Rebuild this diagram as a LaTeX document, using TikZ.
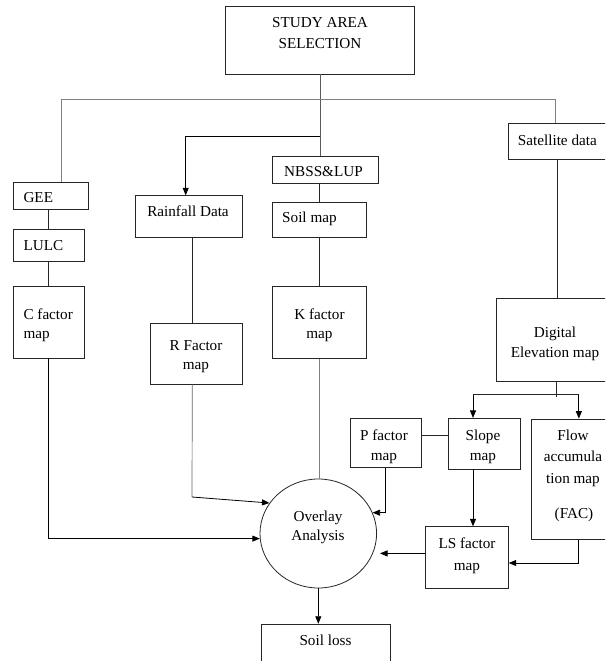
\documentclass[tikz,border=0pt]{standalone}
\usepackage{fontspec}
\setmainfont{Liberation Serif}
\newfontfamily\tnrfont{Liberation Serif}
\usetikzlibrary{arrows.meta,shapes.geometric}
\begin{document}
\begin{tikzpicture}[x=1pt,y=-1pt,
 box/.style={draw=black!85, line width=0.8pt, inner sep=0pt, rectangle},
 lab/.style={inner sep=0pt, anchor=base, font=\tnrfont\fontsize{15.2}{18}\selectfont},
 labl/.style={lab, anchor=base west},
 ln/.style={draw=black!85, line width=0.7pt},
 gln/.style={draw=black!50, line width=0.7pt},
 arr/.style={draw=black, line width=0.8pt, -{Triangle[length=7.5pt,width=6pt]}},
]
\useasboundingbox (0,0) rectangle (605,661);
\clip (0,0) rectangle (605,661);
\fill[white] (0,0) rectangle (605,661);

% boxes
\node[box, minimum width=188.3pt, minimum height=68pt] (study) at (319.85,40) {};
\node[box, minimum width=105.6pt, minimum height=27.3pt] (nbss) at (325.5,169.65) {};
\node[box, minimum width=98.7pt, minimum height=36pt] (sat) at (557.65,141.3) {};
\node[box, minimum width=75pt, minimum height=26.6pt] (gee) at (50.8,196) {};
\node[box, minimum width=71pt, minimum height=32pt] (lulc) at (48.8,245) {};
\node[box, minimum width=71pt, minimum height=72pt] (cf) at (48.8,322) {};
\node[box, minimum width=107.7pt, minimum height=41.6pt] (rain) at (188.85,216.5) {};
\node[box, minimum width=92.7pt, minimum height=61pt] (rf) at (196.35,353.5) {};
\node[box, minimum width=94.4pt, minimum height=35.3pt] (soil) at (319.5,219.65) {};
\node[box, minimum width=94.4pt, minimum height=72.3pt] (kf) at (319.5,322.15) {};
\node[box, minimum width=121pt, minimum height=83.4pt] (dem) at (556.5,340) {};
\node[box, minimum width=71.7pt, minimum height=49pt] (pf) at (385.85,442.8) {};
\node[box, minimum width=72.4pt, minimum height=50.7pt] (sl) at (484.5,443.65) {};
\node[box, minimum width=94.3pt, minimum height=120.3pt] (fl) at (578.85,479.15) {};
\node[box, minimum width=82.6pt, minimum height=61.6pt] (ls) at (467,557.5) {};
\node[box, minimum width=129pt, minimum height=55.7pt] (loss) at (325.5,652) {};
\node[draw=black!85, line width=0.8pt, ellipse, inner sep=0pt,
      minimum width=116.6pt, minimum height=109pt] (ov) at (318.3,533.5) {};

% texts
\node[lab] (t1) at (320,27.5) {STUDY AREA};
\node[lab] (t2) at (320,48.5) {SELECTION};
\node[lab] (t3) at (323.5,176) {NBSS\&LUP};
\node[labl] (t4) at (517.7,145.5) {Satellite data};
\node[labl] (t5) at (23.3,202.5) {GEE};
\node[labl] (t6) at (23.3,250) {LULC};
\node[labl] (t7) at (23.3,319.5) {C factor};
\node[labl] (t8) at (23.3,338.5) {map};
\node[lab] (t9) at (188,216) {Rainfall Data};
\node[lab] (t10) at (196,350) {R Factor};
\node[lab] (t11) at (196,369) {map};
\node[labl] (t12) at (282,222) {Soil map};
\node[lab] (t13) at (319.5,319.5) {K factor};
\node[lab] (t14) at (319.5,338.5) {map};
\node[lab] (t15) at (555,337) {Digital};
\node[lab] (t16) at (555,357) {Elevation map};
\node[lab] (t17) at (384,440) {P factor};
\node[lab] (t18) at (384,460) {map};
\node[lab] (t19) at (483,440) {Slope};
\node[lab] (t20) at (483,460) {map};
\node[lab] (t21) at (573,440) {Flow};
\node[lab] (t22) at (573,461) {accumula};
\node[lab] (t23) at (573,483) {tion map};
\node[lab] (t24) at (574,518) {(FAC)};
\node[lab] (t25) at (318,521) {Overlay};
\node[lab] (t26) at (318,540) {Analysis};
\node[lab] (t27) at (467,548) {LS factor};
\node[lab] (t28) at (467,570) {map};
\node[lab] (t29) at (325.5,645) {Soil loss};

% helper coordinates
\coordinate (hl) at (61,99);
\coordinate (hr) at (555,99);
\coordinate (rb) at (319.85,136.7);
\coordinate (rbl) at (185.7,136.7);
\coordinate (rx) at (192.3,0);
\coordinate (rk) at (192,497);
\coordinate (djb) at (556.5,397);
\coordinate (djl) at (473,394.5);
\coordinate (djr) at (578.85,394.5);

% connectors
\draw[ln, draw=black!65] (study.south) -- (study.south |- nbss.north);
\draw[gln] (gee.north -| hl) -- (hl) -- (hr) -- (hr |- sat.north);
\draw[arr] (rb) -- (rbl) -- (rbl |- rain.north);
\draw[ln] (soil.north) -- (soil.north |- nbss.south);
\draw[ln] (soil.south) -- (kf.north);
\draw[gln] (kf.south) -- (kf.south |- ov.north);
\draw[ln] (lulc.north) -- (lulc.north |- gee.south);
\draw[ln] (lulc.south) -- (lulc.south |- cf.north);
\draw[arr] (cf.south) |- (ov.185);
\draw[ln] (rx |- rain.south) -- (rx |- rf.north);
\draw[ln, draw=black!60] (rx |- rf.south) -- (rk);
\draw[arr] (rk) -- (ov.148);
\draw[ln] (sat.south) -- (sat.south |- dem.north);
\draw[ln] (dem.south) -- (djb);
\draw[ln] (djl) -- (djr);
\draw[arr] (djl) -- (djl |- sl.north);
\draw[arr] (djr) -- (djr |- fl.north);
\draw[ln] ([yshift=7.5pt]pf.east) -- ([yshift=7.5pt]pf.east -| sl.west);
\draw[arr] (pf.south) |- (ov.21);
\draw[arr] (djl |- sl.south) -- (djl |- ls.north);
\draw[arr, shorten >=7pt] (ls.west |- ov.-20) -- (ov.-20);
\draw[arr] (fl.south) |- ([yshift=-5.5pt]ls.east);
\draw[arr] (ov.south) -- (ov.south |- loss.north);
\end{tikzpicture}
\end{document}
